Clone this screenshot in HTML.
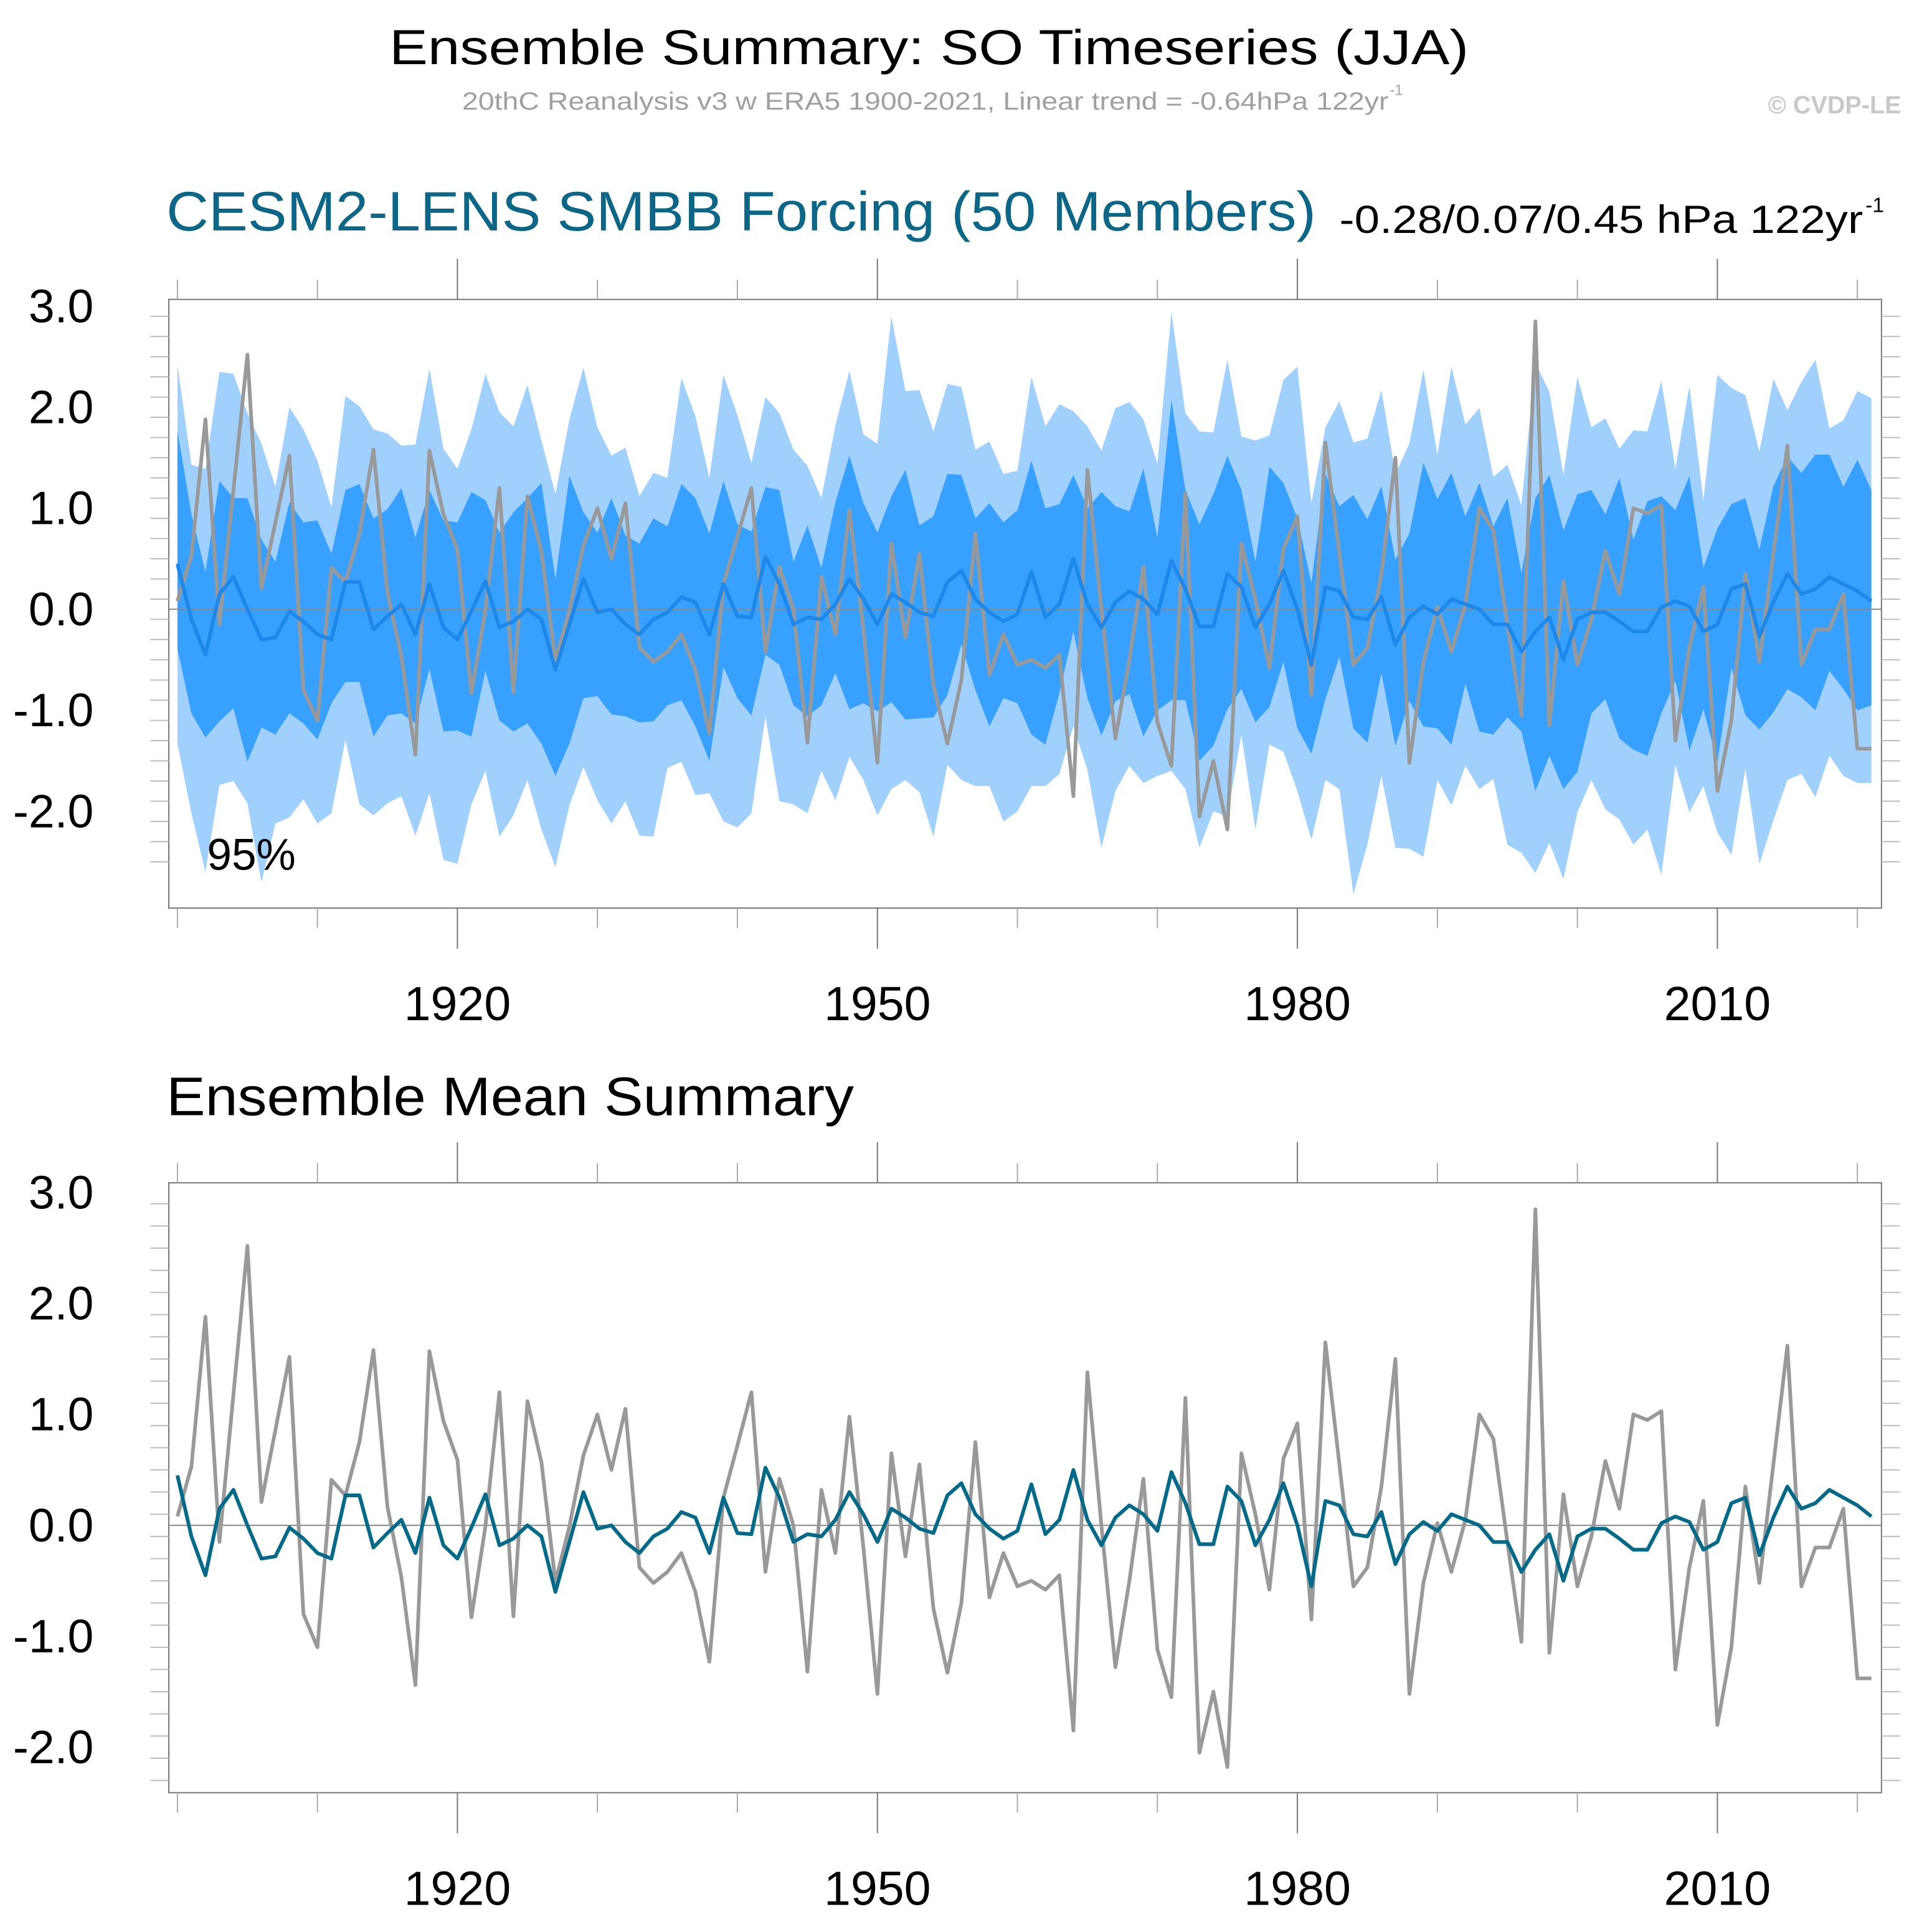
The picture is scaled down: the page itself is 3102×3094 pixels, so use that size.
<!DOCTYPE html>
<html><head><meta charset="utf-8"><style>html,body{margin:0;padding:0;background:#fff}svg{display:block}text{font-family:"Liberation Sans",sans-serif}</style></head>
<body>
<svg id="chart" width="3102" height="3094" viewBox="0 0 1568 1564" preserveAspectRatio="none" xmlns="http://www.w3.org/2000/svg">
<text x="316" y="52" font-size="40" textLength="876" lengthAdjust="spacingAndGlyphs">Ensemble Summary: SO Timeseries (JJA)</text>
<text x="375" y="89" font-size="20" fill="#a0a0a0" textLength="752" lengthAdjust="spacingAndGlyphs">20thC Reanalysis v3 w ERA5 1900-2021, Linear trend = -0.64hPa 122yr</text>
<text x="1128" y="77" font-size="12" fill="#a0a0a0">-1</text>
<text x="1543" y="92" font-size="20" font-weight="bold" fill="#c8c8c8" text-anchor="end">© CVDP-LE</text>
<text x="135" y="187" font-size="45" fill="#0b6687" textLength="933" lengthAdjust="spacingAndGlyphs">CESM2-LENS SMBB Forcing (50 Members)</text>
<text x="1087" y="189" font-size="32" textLength="425" lengthAdjust="spacingAndGlyphs">-0.28/0.07/0.45 hPa 122yr</text>
<text x="1514" y="172" font-size="17">-1</text>
<text x="135" y="905" font-size="44" textLength="558" lengthAdjust="spacingAndGlyphs">Ensemble Mean Summary</text>
<g id="p1"></g>
<g id="p2"></g>
</svg>
<script>
const years = [];
for (let y = 1900; y <= 2021; y++) years.push(y);
const obs = [0.08,0.53,1.88,-0.15,1.18,2.52,0.21,0.86,1.52,-0.80,-1.10,0.41,0.27,0.75,1.58,0.17,-0.47,-1.44,1.57,0.94,0.59,-0.83,-0.01,1.20,-0.82,1.12,0.57,-0.51,-0.01,0.63,1.00,0.50,1.05,-0.38,-0.52,-0.42,-0.25,-0.60,-1.23,0.25,0.72,1.20,-0.42,0.42,0.00,-1.32,0.32,-0.25,0.98,-0.20,-1.52,0.65,-0.28,0.55,-0.75,-1.33,-0.70,0.75,-0.65,-0.25,-0.55,-0.50,-0.58,-0.45,-1.85,1.38,0.00,-1.28,-0.50,0.42,-1.12,-1.55,1.15,-2.05,-1.50,-2.18,0.65,0.10,-0.58,0.60,0.92,-0.85,1.65,0.55,-0.55,-0.38,0.35,1.50,-1.52,-0.52,0.02,-0.42,0.05,1.00,0.78,-0.15,-1.05,2.85,-1.15,0.28,-0.55,-0.10,0.58,0.15,1.00,0.95,1.03,-1.30,-0.38,0.22,-1.80,-1.10,0.35,-0.52,0.55,1.62,-0.55,-0.20,-0.20,0.15,-1.38,-1.38];
const ensMean = [0.45,-0.10,-0.45,0.15,0.32,0.00,-0.30,-0.28,-0.02,-0.12,-0.25,-0.30,0.27,0.27,-0.20,-0.07,0.05,-0.25,0.25,-0.18,-0.30,-0.02,0.28,-0.18,-0.12,0.00,-0.10,-0.60,-0.15,0.30,-0.03,0.00,-0.15,-0.25,-0.10,-0.03,0.12,0.07,-0.25,0.25,-0.07,-0.08,0.52,0.25,-0.15,-0.08,-0.10,0.05,0.30,0.10,-0.15,0.15,0.07,-0.03,-0.07,0.27,0.38,0.10,-0.03,-0.12,-0.05,0.37,-0.08,0.05,0.50,0.05,-0.18,0.07,0.18,0.10,-0.05,0.48,0.20,-0.17,-0.17,0.35,0.22,-0.18,0.05,0.38,0.00,-0.55,0.22,0.18,-0.08,-0.10,0.12,-0.35,-0.08,0.03,-0.05,0.10,0.05,0.00,-0.15,-0.15,-0.42,-0.22,-0.08,-0.50,-0.10,-0.03,-0.03,-0.12,-0.22,-0.22,0.02,0.08,0.03,-0.22,-0.15,0.20,0.25,-0.27,0.07,0.35,0.15,0.20,0.32,0.25,0.18,0.08];
const outerHi = [2.42,1.43,1.39,2.35,2.33,1.94,1.64,1.21,2.00,1.78,1.47,1.01,2.11,2.01,1.78,1.74,1.62,1.63,2.38,1.59,1.39,1.78,2.33,1.95,1.81,2.22,1.67,1.14,1.88,2.39,1.80,1.52,
1.60,1.12,1.35,1.30,2.29,1.91,1.30,2.32,1.92,1.45,2.10,1.94,1.58,1.42,1.10,1.82,2.36,1.73,1.64,2.90,2.16,2.17,1.76,2.23,2.20,1.58,1.66,1.34,1.37,2.30,1.81,
2.03,1.96,1.81,1.57,1.99,2.05,1.88,1.44,2.94,1.94,1.76,1.75,2.47,1.71,1.67,1.72,2.27,2.40,1.05,1.80,2.06,1.65,1.69,2.17,1.34,1.64,2.37,1.53,2.40,1.83,1.99,
1.31,1.43,1.03,2.44,2.15,1.33,2.30,1.80,1.89,1.59,1.77,1.76,2.26,1.39,2.21,1.08,2.32,2.19,2.12,1.56,2.28,1.97,2.25,2.47,1.79,1.87,2.16,2.09];
const innerHi = [1.77,0.94,0.37,1.27,1.10,1.10,0.69,0.47,1.06,0.86,0.88,0.55,1.18,1.24,0.90,0.99,1.20,0.71,1.18,0.88,0.86,1.16,1.08,0.76,0.96,1.10,1.25,0.30,1.32,0.96,0.76,1.10,
0.73,0.65,0.90,0.82,1.24,1.10,0.75,1.27,0.84,0.77,1.21,1.18,0.47,0.83,0.41,1.06,1.52,1.05,0.76,1.12,1.38,0.83,0.92,1.34,1.33,0.90,1.05,0.86,0.98,1.47,1.00,
1.04,1.33,1.00,1.16,1.02,0.97,1.39,0.71,2.07,1.18,0.84,1.14,1.52,1.18,0.47,1.41,1.25,0.90,0.26,1.34,1.02,1.13,0.89,1.22,0.49,0.75,1.45,1.09,1.35,0.92,1.25,
0.82,1.10,0.36,1.10,1.33,0.78,1.14,1.18,0.94,1.30,0.69,1.07,1.12,0.98,1.32,0.41,0.80,1.04,1.10,0.59,1.22,1.51,1.35,1.53,1.53,1.21,1.48,1.18];
const innerLo = [-0.39,-1.03,-1.27,-1.11,-0.98,-1.51,-1.17,-1.24,-1.03,-1.13,-1.29,-0.93,-0.72,-0.72,-1.26,-1.05,-1.03,-1.13,-0.59,-1.21,-1.20,-1.26,-0.61,-1.10,-1.21,-1.13,-1.33,-1.65,-1.33,-0.88,-0.86,-1.04,
-1.06,-1.12,-1.11,-0.95,-0.90,-1.16,-1.50,-0.57,-0.88,-1.05,-0.45,-0.55,-0.95,-1.06,-0.95,-0.63,-0.99,-0.93,-1.01,-0.92,-1.09,-1.08,-1.07,-0.85,-0.35,-0.80,-1.16,-0.88,-0.93,-1.24,-1.34,
-0.83,-0.22,-0.88,-1.25,-0.91,-0.84,-1.26,-1.00,-0.90,-0.90,-1.50,-1.35,-0.99,-0.79,-1.12,-0.97,-0.52,-1.18,-1.43,-0.89,-0.47,-1.18,-1.32,-0.63,-1.35,-0.91,-1.16,-1.18,-1.34,-0.74,-1.21,
-1.24,-1.07,-1.21,-1.80,-1.45,-1.78,-1.61,-1.03,-0.89,-1.28,-1.39,-1.45,-1.03,-0.71,-1.40,-0.99,-1.51,-0.58,-1.05,-1.19,-1.02,-0.79,-0.87,-1.00,-0.61,-0.79,-1.00,-0.95];
const outerLo = [-1.33,-2.02,-2.60,-1.74,-1.70,-1.92,-2.70,-2.12,-2.06,-1.88,-2.12,-2.02,-1.29,-1.93,-2.04,-1.92,-1.85,-2.24,-1.82,-2.48,-2.52,-1.93,-1.60,-2.25,-2.04,-1.69,-2.18,-2.55,-1.94,-1.56,-1.89,-2.12,
-1.90,-2.24,-2.25,-1.57,-1.51,-1.84,-1.82,-2.10,-2.16,-2.02,-1.06,-1.90,-1.93,-2.02,-1.60,-1.89,-1.46,-1.69,-2.04,-1.78,-1.69,-1.81,-2.25,-1.54,-1.69,-1.75,-1.75,-2.10,-2.00,-1.75,-1.75,
-1.63,-1.16,-1.59,-2.36,-1.80,-1.55,-1.72,-1.65,-1.60,-1.78,-2.36,-2.00,-2.05,-1.24,-2.18,-1.34,-1.41,-1.80,-2.28,-1.69,-1.78,-2.82,-2.33,-1.65,-2.36,-2.37,-2.45,-1.69,-1.94,-1.55,-1.78,
-1.68,-2.33,-2.41,-2.61,-2.31,-2.67,-2.01,-1.69,-1.98,-2.08,-2.33,-2.18,-2.63,-1.54,-2.01,-1.75,-2.21,-2.43,-1.58,-2.52,-2.09,-1.69,-1.63,-1.86,-1.45,-1.65,-1.72,-1.72];
const yTickLabels = ["3.0","2.0","1.0","0.0","-1.0","-2.0"];
const yTickValues = [3,2,1,0,-1,-2];
const xTickLabels = ["1920","1950","1980","2010"];
const xTickValues = [1920,1950,1980,2010];

const NS = "http://www.w3.org/2000/svg";
function mk(parent, tag, attrs) {
  const e = document.createElementNS(NS, tag);
  for (const k in attrs) e.setAttribute(k, attrs[k]);
  parent.appendChild(e);
  return e;
}
const xOf = yr => 144 + (yr - 1900) * 11.362;

function panel(g, top, bottom, y0, unit, spread) {
  const L = 137, R = 1527;
  const yOf = v => y0 - v * unit;
  if (spread) {
    let d = years.map((yr, i) => (i ? "L" : "M") + xOf(yr) + "," + yOf(outerHi[i])).join("");
    for (let i = years.length - 1; i >= 0; i--) d += "L" + xOf(years[i]) + "," + yOf(outerLo[i]);
    const o = mk(g, "path", {d: d + "Z", fill: "#a0d0fe"});
    
    
    let d2 = years.map((yr, i) => (i ? "L" : "M") + xOf(yr) + "," + yOf(innerHi[i])).join("");
    for (let i = years.length - 1; i >= 0; i--) d2 += "L" + xOf(years[i]) + "," + yOf(innerLo[i]);
    const n = mk(g, "path", {d: d2 + "Z", fill: "#38a0fe"});
    
    
  }
  const zl = mk(g, "line", {x1: L, x2: R, y1: yOf(0), y2: yOf(0), stroke: "#888", "stroke-width": 1});
  
  
  const ol = mk(g, "polyline", {points: years.map((yr, i) => xOf(yr) + "," + yOf(obs[i])).join(" "), fill: "none", stroke: "#999", "stroke-width": 3, "stroke-linejoin": "round"});
  
  
  const ml = mk(g, "polyline", {points: years.map((yr, i) => xOf(yr) + "," + yOf(ensMean[i])).join(" "), fill: "none", stroke: spread ? "#1e88ea" : "#046a8a", "stroke-width": 3, "stroke-linejoin": "round"});
  
  
  const fr = mk(g, "rect", {x: L, y: top, width: R - L, height: bottom - top, fill: "none", stroke: "#777", "stroke-width": 1});
  
  
  for (let k = -25; k <= 30; k += 2) {
    const v = k / 10, yy = yOf(v);
    if (yy < top - 0.5 || yy > bottom + 0.5) continue;
    const major = k % 10 === 0;
    const len = major ? 32 : 15;
    const t1 = mk(g, "line", {x1: L - len, x2: L, y1: yy, y2: yy, stroke: major ? "#777" : "#bbb", "stroke-width": 1});
    
    
    const t2 = mk(g, "line", {x1: R, x2: R + len, y1: yy, y2: yy, stroke: major ? "#777" : "#bbb", "stroke-width": 1});
    
    
  }
  yTickValues.forEach((v, i) => {
    const t = mk(g, "text", {x: 76, y: yOf(v) + 13, "font-size": 38, "text-anchor": "end"});
    t.textContent = yTickLabels[i];
    
    
  });
  for (let yr = 1900; yr <= 2020; yr += 10) {
    const major = xTickValues.includes(yr);
    const len = major ? 33 : 16;
    const x = xOf(yr);
    const a = mk(g, "line", {x1: x, x2: x, y1: top - len, y2: top, stroke: major ? "#777" : "#aaa", "stroke-width": 1});
    
    
    const b = mk(g, "line", {x1: x, x2: x, y1: bottom, y2: bottom + len, stroke: major ? "#777" : "#aaa", "stroke-width": 1});
    
    
  }
  xTickValues.forEach((v, i) => {
    const t = mk(g, "text", {x: xOf(v), y: bottom + 91, "font-size": 39, "text-anchor": "middle"});
    t.textContent = xTickLabels[i];
    
    
  });
}
panel(document.getElementById("p1"), 243, 737, 494.5, 82, true);
panel(document.getElementById("p2"), 960, 1455, 1238, 90, false);
const pct = mk(document.getElementById("p1"), "text", {x: 168, y: 706, "font-size": 36});
pct.textContent = "95%";


</script>
</body></html>
